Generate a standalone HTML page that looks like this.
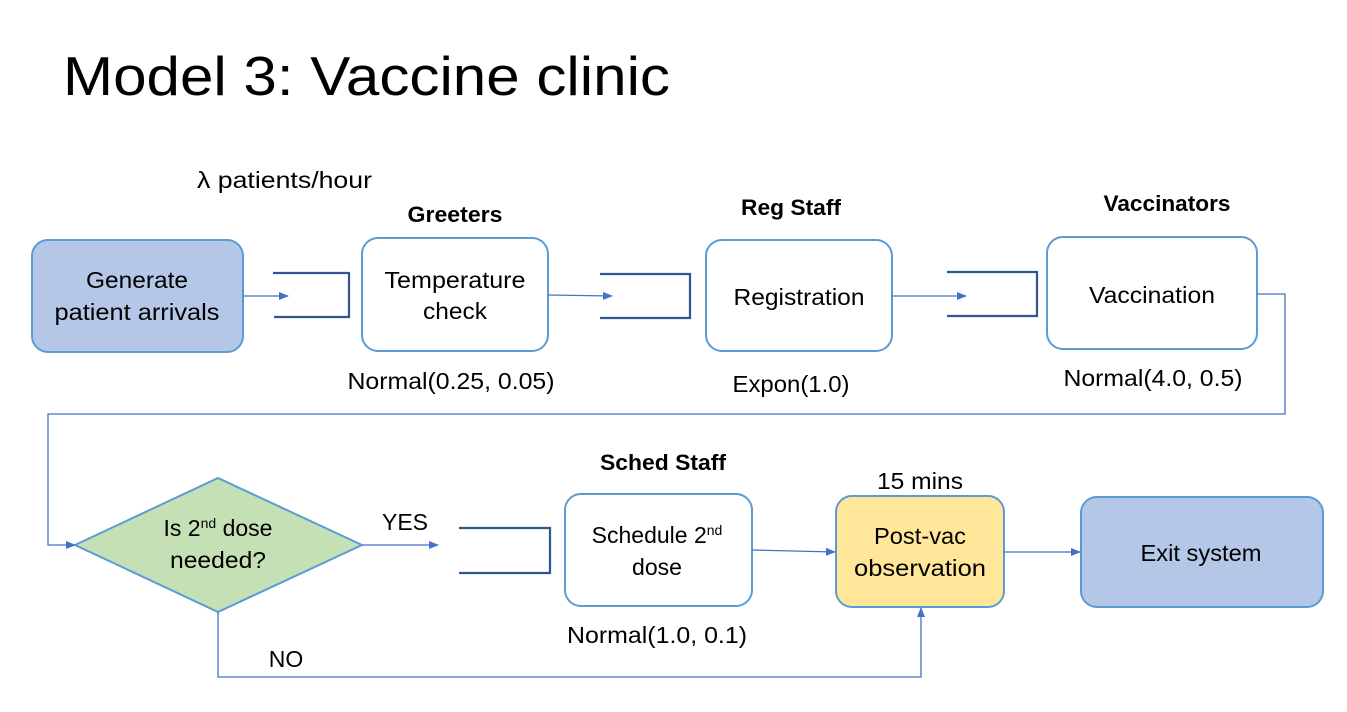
<!DOCTYPE html>
<html><head><meta charset="utf-8"><style>
html,body{margin:0;padding:0;background:#fff;}
svg{display:block;}
text{font-family:"Liberation Sans",sans-serif;fill:#000;}
</style></head><body>
<svg width="1347" height="712" viewBox="0 0 1347 712" xmlns="http://www.w3.org/2000/svg">
<defs>
<marker id="a" markerWidth="10" markerHeight="10" refX="9" refY="5" orient="auto" markerUnits="userSpaceOnUse">
<path d="M0,1 L10,5 L0,9 Z" fill="#4472c4"/></marker>
</defs>
<text x="63" y="95" font-size="55" textLength="607" lengthAdjust="spacingAndGlyphs">Model 3: Vaccine clinic</text>
<text x="197" y="188" font-size="23" textLength="175" lengthAdjust="spacingAndGlyphs">λ patients/hour</text>

<g stroke="#5b9bd5" stroke-width="2">
<rect x="32" y="240" width="211" height="112" rx="16" fill="#b4c7e7"/>
<rect x="362" y="238" width="186" height="113" rx="16" fill="#fff"/>
<rect x="706" y="240" width="186" height="111" rx="16" fill="#fff"/>
<rect x="1047" y="237" width="210" height="112" rx="16" fill="#fff"/>
<polygon points="75,545 218,478 362,545 218,612" fill="#c5e0b4"/>
<rect x="565" y="494" width="187" height="112" rx="16" fill="#fff"/>
<rect x="836" y="496" width="168" height="111" rx="16" fill="#ffe699"/>
<rect x="1081" y="497" width="242" height="110" rx="16" fill="#b4c7e7"/>
</g>

<g stroke="#2f5597" stroke-width="2.2" fill="none">
<polyline points="273,273 349,273 349,317 274,317"/>
<polyline points="600,274 690,274 690,318 600,318"/>
<polyline points="947,272 1037,272 1037,316 947,316"/>
<polyline points="459,528 550,528 550,573 459,573"/>
</g>

<g stroke="#4472c4" stroke-width="1.3" fill="none" marker-end="url(#a)">
<line x1="243" y1="296" x2="288" y2="296"/>
<line x1="548" y1="295" x2="612" y2="296"/>
<line x1="892" y1="296" x2="966" y2="296"/>
<polyline points="1257,294 1285,294 1285,414 48,414 48,545 75,545"/>
<line x1="362" y1="545" x2="438" y2="545"/>
<line x1="752" y1="550" x2="835" y2="552"/>
<line x1="1004" y1="552" x2="1080" y2="552"/>
<polyline points="218,612 218,677 921,677 921,608"/>
</g>

<g font-size="23" text-anchor="middle">
<text x="137" y="288" textLength="102" lengthAdjust="spacingAndGlyphs">Generate</text>
<text x="137" y="320" textLength="165" lengthAdjust="spacingAndGlyphs">patient arrivals</text>
<text x="455" y="288" textLength="141" lengthAdjust="spacingAndGlyphs">Temperature</text>
<text x="455" y="319" textLength="64" lengthAdjust="spacingAndGlyphs">check</text>
<text x="799" y="305" textLength="131" lengthAdjust="spacingAndGlyphs">Registration</text>
<text x="1152" y="303" textLength="126" lengthAdjust="spacingAndGlyphs">Vaccination</text>
<text x="451" y="389" textLength="207" lengthAdjust="spacingAndGlyphs">Normal(0.25, 0.05)</text>
<text x="791" y="392" textLength="117" lengthAdjust="spacingAndGlyphs">Expon(1.0)</text>
<text x="1153" y="386" textLength="179" lengthAdjust="spacingAndGlyphs">Normal(4.0, 0.5)</text>
<text x="218" y="536">Is 2<tspan font-size="14" dy="-8">nd</tspan><tspan dy="8"> dose</tspan></text>
<text x="218" y="568" textLength="96" lengthAdjust="spacingAndGlyphs">needed?</text>
<text x="405" y="530">YES</text>
<text x="286" y="667">NO</text>
<text x="657" y="543">Schedule 2<tspan font-size="14" dy="-8">nd</tspan></text>
<text x="657" y="575" textLength="50" lengthAdjust="spacingAndGlyphs">dose</text>
<text x="657" y="643" textLength="180" lengthAdjust="spacingAndGlyphs">Normal(1.0, 0.1)</text>
<text x="920" y="489" textLength="86" lengthAdjust="spacingAndGlyphs">15 mins</text>
<text x="920" y="544" textLength="92" lengthAdjust="spacingAndGlyphs">Post-vac</text>
<text x="920" y="576" textLength="132" lengthAdjust="spacingAndGlyphs">observation</text>
<text x="1201" y="561" textLength="121" lengthAdjust="spacingAndGlyphs">Exit system</text>
</g>
<g font-size="22" font-weight="bold" text-anchor="middle">
<text x="455" y="222" textLength="95" lengthAdjust="spacingAndGlyphs">Greeters</text>
<text x="791" y="215" textLength="100" lengthAdjust="spacingAndGlyphs">Reg Staff</text>
<text x="1167" y="211" textLength="127" lengthAdjust="spacingAndGlyphs">Vaccinators</text>
<text x="663" y="470" textLength="126" lengthAdjust="spacingAndGlyphs">Sched Staff</text>
</g>
</svg>
</body></html>
